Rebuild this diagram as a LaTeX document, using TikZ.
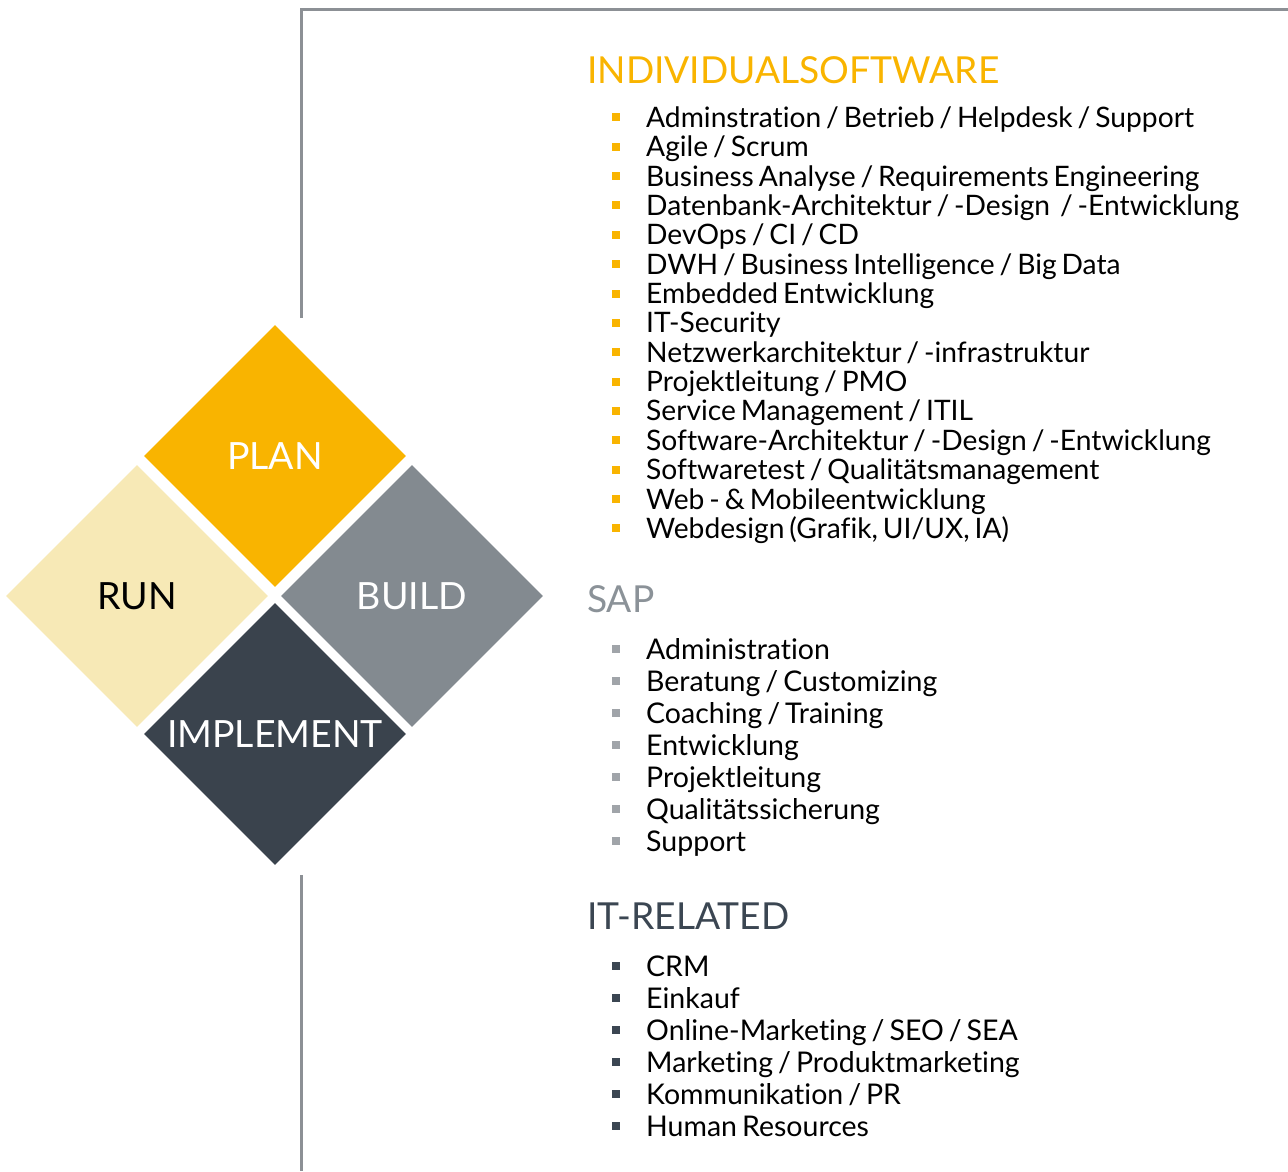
\documentclass[tikz,border=0pt]{standalone}
\usepackage{fontspec}
\setmainfont{Lato}[Ligatures=NoCommon, WordSpace=0.68]
\usetikzlibrary{shapes.geometric}
\definecolor{planorange}{HTML}{F9B400}
\definecolor{runyellow}{HTML}{F7E9B6}
\definecolor{buildgray}{HTML}{838A90}
\definecolor{implementdark}{HTML}{3A434D}
\definecolor{framegray}{HTML}{8C9095}
\definecolor{sapgray}{HTML}{8B9298}
\definecolor{sapbullet}{HTML}{A0A4A9}
\definecolor{itdark}{HTML}{3B4652}
\newcommand{\listbullet}[1]{\textcolor{#1}{\raisebox{6pt}{\rule{8pt}{8pt}}}\hspace{26pt}}
\begin{document}
\begin{tikzpicture}[x=1pt, y=-1pt,
    phase/.style={diamond, minimum width=262pt, minimum height=262pt, inner sep=0pt,
      font=\fontsize{37.5}{44}\selectfont},
    head/.style={anchor=base west, inner sep=0pt, font=\fontsize{37.2}{44}\selectfont},
    entry/.style={anchor=base west, inner sep=0pt, font=\fontsize{28.2}{34}\selectfont},
    sapentry/.style={entry, font=\fontsize{28.5}{34}\selectfont},
    frame/.style={draw=framegray, line width=2.5pt}]
  \useasboundingbox (0,0) rectangle (1288,1171);
  % frame
  \draw[frame] (301.5,318) -- (301.5,9.5) -- (1288,9.5);
  \draw[frame] (301.5,875) -- (301.5,1171);
  % phases
  \node[phase, fill=planorange, text=white] (plan) at (275,456) {\raisebox{-1pt}{PLAN}};
  \node[phase, fill=runyellow, text=black] (run) at (137,596) {\raisebox{-1pt}{RUN}\hspace{6pt}};
  \node[phase, fill=buildgray, text=white] (build) at (412,596) {\raisebox{-1pt}{BUILD}};
  \node[phase, fill=implementdark, text=white] (implement) at (275,734) {\raisebox{-3pt}{IMPLEMENT}};
  % individualsoftware
  \node[head, text=planorange] (indiv) at (587,83) {INDIVIDUALSOFTWARE};
  \node[entry] (i1) at (612,127.3) {\listbullet{planorange}Adminstration / Betrieb / Helpdesk / Support};
  \node[entry] (i2) at (612,156.7) {\listbullet{planorange}Agile / Scrum};
  \node[entry] (i3) at (612,186.0) {\listbullet{planorange}Business Analyse / Requirements Engineering};
  \node[entry] (i4) at (612,215.4) {\listbullet{planorange}Datenbank-Architektur / -Design~ / -Entwicklung};
  \node[entry] (i5) at (612,244.7) {\listbullet{planorange}DevOps / CI / CD};
  \node[entry] (i6) at (612,274.1) {\listbullet{planorange}DWH / Business Intelligence / Big Data};
  \node[entry] (i7) at (612,303.5) {\listbullet{planorange}Embedded Entwicklung};
  \node[entry] (i8) at (612,332.8) {\listbullet{planorange}IT-Security};
  \node[entry] (i9) at (612,362.2) {\listbullet{planorange}Netzwerkarchitektur / -infrastruktur};
  \node[entry] (i10) at (612,391.5) {\listbullet{planorange}Projektleitung / PMO};
  \node[entry] (i11) at (612,420.9) {\listbullet{planorange}Service Management / ITIL};
  \node[entry] (i12) at (612,450.3) {\listbullet{planorange}Software-Architektur / -Design / -Entwicklung};
  \node[entry] (i13) at (612,479.6) {\listbullet{planorange}Softwaretest / Qualitätsmanagement};
  \node[entry] (i14) at (612,509.0) {\listbullet{planorange}Web - \& Mobileentwicklung};
  \node[entry] (i15) at (612,538.3) {\listbullet{planorange}Webdesign (Grafik, UI/UX, IA)};
  % sap
  \node[head, text=sapgray] (sap) at (587,612) {SAP};
  \node[sapentry] (s1) at (612,659) {\listbullet{sapbullet}Administration};
  \node[sapentry] (s2) at (612,691) {\listbullet{sapbullet}Beratung / Customizing};
  \node[sapentry] (s3) at (612,723) {\listbullet{sapbullet}Coaching / Training};
  \node[sapentry] (s4) at (612,755) {\listbullet{sapbullet}Entwicklung};
  \node[sapentry] (s5) at (612,787) {\listbullet{sapbullet}Projektleitung};
  \node[sapentry] (s6) at (612,819) {\listbullet{sapbullet}Qualitätssicherung};
  \node[sapentry] (s7) at (612,851) {\listbullet{sapbullet}Support};
  % it-related
  \node[head, text=itdark] (itrel) at (587,929) {IT-RELATED};
  \node[sapentry] (r1) at (612,976) {\listbullet{itdark}CRM};
  \node[sapentry] (r2) at (612,1008) {\listbullet{itdark}Einkauf};
  \node[sapentry] (r3) at (612,1040) {\listbullet{itdark}Online-Marketing / SEO / SEA};
  \node[sapentry] (r4) at (612,1072) {\listbullet{itdark}Marketing / Produktmarketing};
  \node[sapentry] (r5) at (612,1104) {\listbullet{itdark}Kommunikation / PR};
  \node[sapentry] (r6) at (612,1136) {\listbullet{itdark}Human Resources};
\end{tikzpicture}
\end{document}
